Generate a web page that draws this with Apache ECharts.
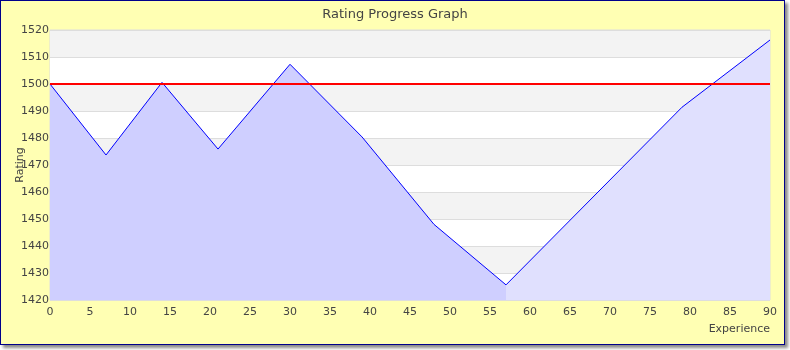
<!DOCTYPE html>
<html>
<head>
<meta charset="utf-8">
<script src="https://cdn.jsdelivr.net/npm/echarts@6/dist/echarts.min.js"></script>
<style>
  html, body { margin: 0; padding: 0; background: #ffffff; }
  #frame { position: absolute; left: 0; top: 0; width: 783px; height: 343px;
           border: 1px solid #00008b; background: #ffffb3;
           box-shadow: 3px 3px 3px #8a8a8a; }
  #chart { position: absolute; left: 0; top: 0; width: 790px; height: 350px; }
</style>
</head>
<body>
<div id="frame"></div>
<div id="chart"></div>
<script>
// Data
const experience = [0, 7, 14, 21, 30, 39, 48, 57, 79, 90];
const rating     = [1500, 1473.7, 1500.6, 1475.9, 1507.3, 1480.4, 1448, 1425.6, 1491.4, 1516.3];
const splitExperience = 57;      // where the fill colour changes
const referenceRating = 1500;    // red reference line
const titleText = 'Rating Progress Graph';
const xName = 'Experience';
const yName = 'Rating';

const firstPart = [], secondPart = [];
experience.forEach((x, i) => {
  if (x <= splitExperience) firstPart.push([x, rating[i]]);
  if (x >= splitExperience) secondPart.push([x, rating[i]]);
});

const font = 'DejaVu Sans, sans-serif';
const chart = echarts.init(document.getElementById('chart'), null, { renderer: 'canvas' });
chart.setOption({
  animation: false,
  backgroundColor: 'transparent',
  title: {
    text: titleText, left: 'center', top: 3,
    textStyle: { fontFamily: font, fontSize: 13, fontWeight: 'normal', color: '#444' }
  },
  grid: { left: 50, top: 30, width: 720, height: 270, show: true,
          containLabel: false, outerBoundsMode: 'none',
          borderColor: '#dddddd', borderWidth: 1, backgroundColor: 'transparent' },
  xAxis: {
    type: 'value', min: 0, max: 90, interval: 5,
    name: xName, nameLocation: 'end', nameGap: 0, nameMoveOverlap: false,
    nameTextStyle: { fontFamily: font, fontSize: 11, color: '#444', align: 'right',
                     verticalAlign: 'top', padding: [24, 0, 0, 0] },
    axisLine: { show: false }, axisTick: { show: false },
    axisLabel: { fontFamily: font, fontSize: 11, color: '#444', margin: 7,
                 formatter: v => String(v) },
    splitLine: { show: false }
  },
  yAxis: {
    type: 'value', min: 1420, max: 1520, interval: 10,
    name: yName, nameLocation: 'middle', nameGap: 24, nameRotate: 90,
    nameMoveOverlap: false,
    nameTextStyle: { fontFamily: font, fontSize: 11, color: '#444' },
    axisLine: { show: false }, axisTick: { show: false },
    axisLabel: { fontFamily: font, fontSize: 11, color: '#444', margin: 1,
                 formatter: v => String(v) },
    splitLine: { show: true, lineStyle: { color: '#dddddd', width: 1 } },
    splitArea: { show: true, areaStyle: { color: ['#ffffff', '#f3f3f3'] } }
  },
  series: [
    {
      type: 'line', data: firstPart, symbol: 'none', z: 3,
      lineStyle: { color: '#0000ff', width: 1 },
      areaStyle: { color: '#cfcfff', opacity: 1, origin: 'start' }
    },
    {
      type: 'line', data: secondPart, symbol: 'none', z: 3,
      lineStyle: { color: '#0000ff', width: 1 },
      areaStyle: { color: '#e0e0fe', opacity: 1, origin: 'start' }
    },
    {
      type: 'line', data: [], z: 4,
      markLine: {
        silent: true, symbol: 'none', label: { show: false },
        lineStyle: { color: '#ff0000', width: 2, type: 'solid' },
        data: [{ yAxis: referenceRating }]
      }
    }
  ]
});
</script>
</body>
</html>
